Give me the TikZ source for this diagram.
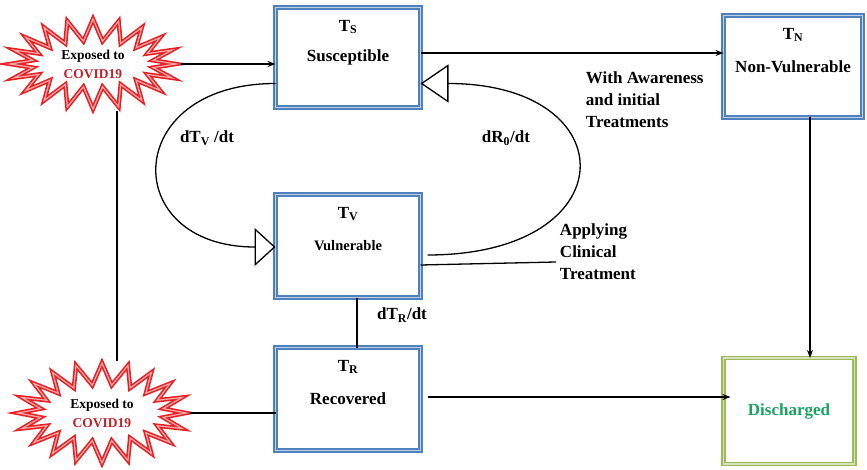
\documentclass[tikz,border=0pt]{standalone}
\usepackage{fontspec}
\setmainfont{Liberation Serif}
\usepackage{tikz}
\usetikzlibrary{positioning, shapes.symbols, arrows.meta}

\definecolor{boxblue}{RGB}{79,129,189}
\definecolor{boxpale}{RGB}{190,208,232}
\definecolor{boxgreen}{RGB}{155,187,89}
\definecolor{palegreen}{RGB}{214,227,188}
\definecolor{textgreen}{RGB}{24,164,96}
\definecolor{burstred}{RGB}{232,32,36}
\definecolor{burstpale}{RGB}{246,170,170}
\definecolor{covidred}{RGB}{196,32,40}

\begin{document}
\begin{tikzpicture}[x=1pt, y=-1pt, >={Stealth[length=8pt,width=6pt]}, line width=1.3pt,
    every node/.style={font=\fontsize{17}{22}\selectfont\bfseries},
    state/.style={rectangle, draw=boxblue, double=boxpale, double distance=1.6pt, line width=1.6pt,
        minimum width=145pt, minimum height=103pt, outer sep=0pt},
    tlabel/.style={label={[anchor=center, yshift=-19.5pt]north:#1}},
    exposed/.style={starburst, starburst points=20, starburst point height=22pt, random starburst=0,
        draw=burstred, double=burstpale, double distance=1.2pt, line width=1.6pt, align=center,
        inner xsep=2pt, inner ysep=0pt, font=\fontsize{13.5}{19}\selectfont\bfseries},
    openarrow/.style={-{Triangle[open, length=#1, width=38pt]}}]
    \useasboundingbox (0,0) rectangle (867,470);

    % Compartments down the middle column
    \node[state, minimum height=100pt, tlabel={T\textsubscript{S}}] (ts) at (348,57.5) {Susceptible};
    \node[state, below=87pt of ts, tlabel={T\textsubscript{V}}, font=\fontsize{14.5}{18}\selectfont\bfseries] (tv) {Vulnerable};
    \node[state, below=50pt of tv, tlabel={T\textsubscript{R}}] (tr) {Recovered};

    % Compartments on the right
    \node[state, minimum width=139pt, minimum height=102pt, tlabel={T\textsubscript{N}}] (tn) at (793,66.5) {Non-Vulnerable};
    \node[state, draw=boxgreen, double=palegreen, minimum width=131pt, minimum height=106pt,
        text=textgreen] (dis) at (789,411) {Discharged};

    % Exposure sources
    \node[exposed, minimum width=166pt, minimum height=90pt] (star1) at (93,64) {Exposed to\\\textcolor{covidred}{COVID19}};
    \node[exposed, minimum width=168pt, minimum height=100pt] (star2) at (102,413) {Exposed to\\\textcolor{covidred}{COVID19}};

    % Rate labels and notes
    \node (dtv) at (207,138) {dT\textsubscript{V} /dt};
    \node (dr0) at (506,138) {dR\textsubscript{0}/dt};
    \node (dtr) at (402,315) {dT\textsubscript{R}/dt};
    \node[anchor=west, align=left] (aware) at (582,100) {With Awareness\\and initial\\Treatments};
    \node[anchor=west, align=left] (apply) at (556,252) {Applying\\Clinical\\Treatment};

    % Connections: exposure into the compartments
    \draw[->] (star1.east) -- (star1.east -| ts.west);
    \draw ([xshift=24pt]star1.south) -- ([xshift=24pt]star1.south |- star2.north);
    \draw (star2.east) -- (star2.east -| tr.west);

    % Connections: susceptible to non-vulnerable to discharged
    \draw[->] ([yshift=4.5pt]ts.east) -- ([yshift=4.5pt]ts.east -| tn.west);
    \draw[->] ([xshift=17pt]tn.south) -- ([xshift=17pt]tn.south |- dis.north);
    \draw[->] ([xshift=7pt,yshift=2pt]tr.east) -- ([xshift=7pt,yshift=2pt]tr.east -| dis.west);

    % Connections: vulnerable down to recovered
    \draw ([xshift=9pt]tv.south) -- ([xshift=9pt]tv.south |- tr.north);
    \draw ([yshift=-19pt]tv.east) -- ([yshift=-10pt]apply.west);

    % Loop between susceptible and vulnerable
    \draw[openarrow=21pt] ([yshift=-26pt]ts.west) .. controls +(-155,0) and +(-157,0) .. ([yshift=-1pt]tv.west);
    \draw[openarrow=28pt] ([xshift=7pt,yshift=-9pt]tv.east) .. controls +(200,0) and +(207,0) .. ([yshift=-26pt]ts.east);
\end{tikzpicture}
\end{document}
